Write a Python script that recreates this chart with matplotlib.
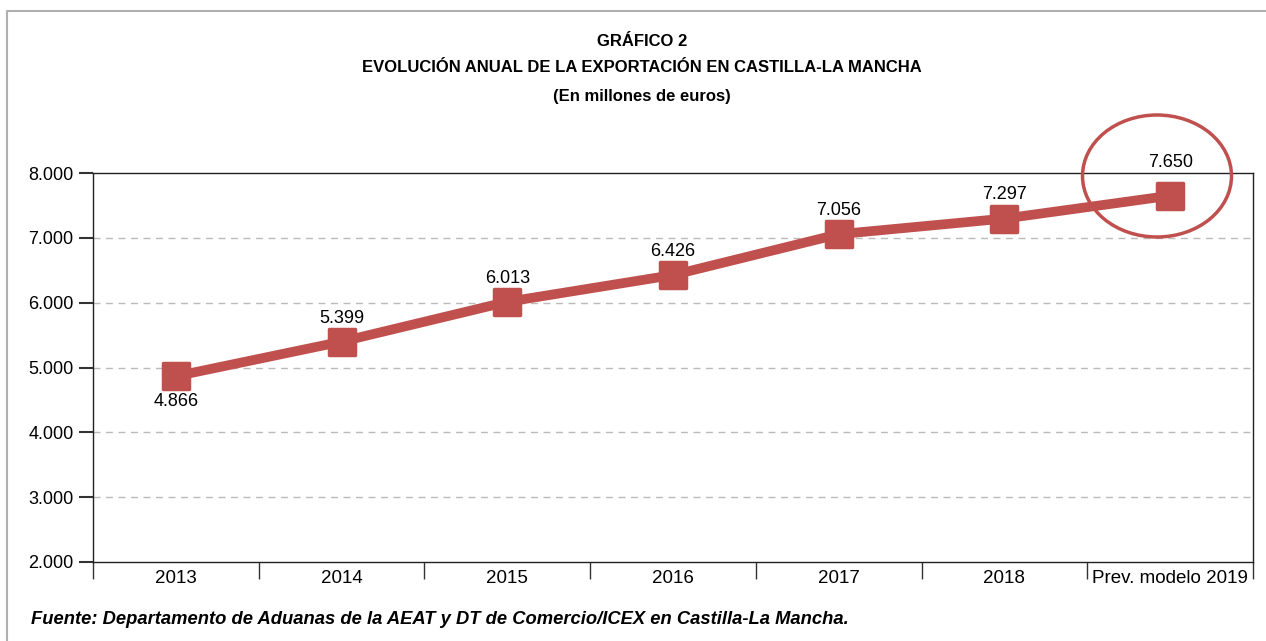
import matplotlib
matplotlib.use("Agg")
import matplotlib.pyplot as plt
from matplotlib.patches import Ellipse
from matplotlib.lines import Line2D
from matplotlib.markers import MarkerStyle
from matplotlib.ticker import FuncFormatter, FixedLocator

categories = ["2013", "2014", "2015", "2016", "2017", "2018", "Prev. modelo 2019"]
exports = [4866, 5399, 6013, 6426, 7056, 7297, 7650]
value_labels = ["4.866", "5.399", "6.013", "6.426", "7.056", "7.297", "7.650"]

red = "#c0504d"
plt.rcParams["font.family"] = ["Liberation Sans", "DejaVu Sans"]

fig = plt.figure(figsize=(12.66, 6.41), dpi=100)
W, H = 1266, 641
ax = fig.add_axes([93 / W, 1 - 562 / H, (1253 - 93) / W, (562 - 173) / H])

x = list(range(len(categories)))
ax.plot(x, exports, color=red, lw=7, solid_capstyle="butt", zorder=3)
ax.plot(x, exports, ls="none", marker=MarkerStyle("s", joinstyle="round"), ms=19,
        color=red, markeredgewidth=2.5, markeredgecolor=red, zorder=4)

for i, (v, lab) in enumerate(zip(exports, value_labels)):
    if i == 0:
        dy = -18
    elif i == len(exports) - 1:
        dy = 24
    else:
        dy = 17
    ax.annotate(lab, (i, v), xytext=(0, dy), textcoords="offset points",
                ha="center", va="center", fontsize=13)

ax.set_xlim(-0.5, len(categories) - 0.5)
ax.set_ylim(2000, 8000)
ax.set_yticks(range(2000, 8001, 1000))
ax.yaxis.set_major_formatter(FuncFormatter(lambda v, p: f"{int(v):,}".replace(",", ".")))
ax.set_xticks(x)
ax.set_xticklabels(categories, fontsize=13.5)
ax.tick_params(axis="x", which="major", length=0, pad=6)
ax.xaxis.set_minor_locator(FixedLocator([i - 0.5 for i in range(len(categories) + 1)]))
ax.tick_params(axis="x", which="minor", length=12, width=1, color="#333333")
ax.tick_params(axis="y", length=10, width=1.5, color="#333333", labelsize=13, pad=4)

for yv in range(3000, 8000, 1000):
    ax.axhline(yv, color="#bbbbbb", lw=1, ls=(0, (5, 4)), zorder=1)
for s in ax.spines.values():
    s.set_color("#222222")
    s.set_linewidth(1)

# highlight circle around the forecast
ell = Ellipse((1157 / W, 1 - 176 / H), 149 / W, 122 / H, transform=fig.transFigure,
              fill=False, edgecolor=red, lw=2.5)
fig.patches.append(ell)

# outer frame
fig.lines.append(Line2D([7 / W, 7 / W, 1], [0, 1 - 11 / H, 1 - 11 / H],
                        transform=fig.transFigure, color="#b0b0b0", lw=1.5))

fig.text(0.507, 1 - 42 / H, "GRÁFICO 2", ha="center", va="center",
         fontsize=12, fontweight="bold")
fig.text(0.507, 1 - 68 / H, "EVOLUCIÓN ANUAL DE LA EXPORTACIÓN EN CASTILLA-LA MANCHA",
         ha="center", va="center", fontsize=12, fontweight="bold")
fig.text(0.507, 1 - 96 / H, "(En millones de euros)", ha="center", va="center",
         fontsize=12, fontweight="bold")
fig.text(31 / W, 1 - 620 / H,
         "Fuente: Departamento de Aduanas de la AEAT y DT de Comercio/ICEX en Castilla-La Mancha.",
         ha="left", va="center", fontsize=13.2, fontweight="bold", style="italic")

fig.savefig("out.png", dpi=100)
